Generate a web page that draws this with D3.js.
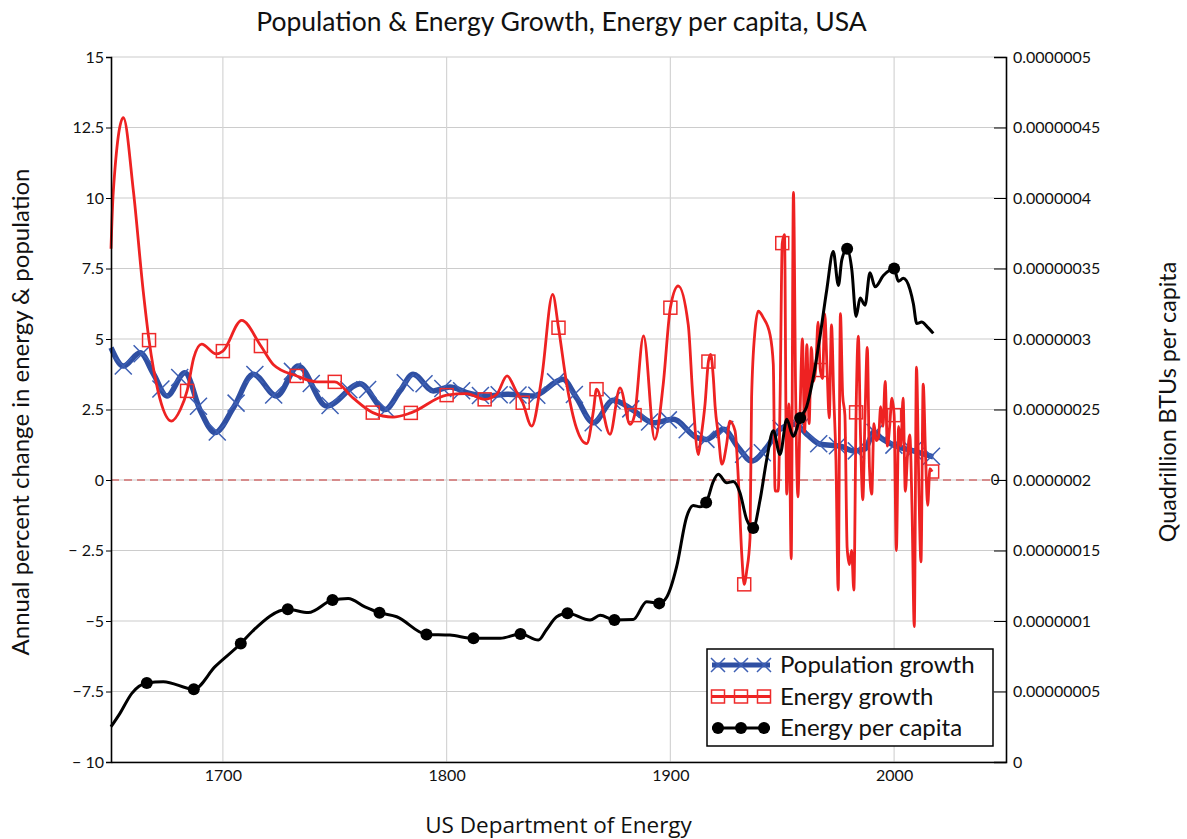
<!DOCTYPE html>
<html>
<head>
<meta charset="utf-8">
<script src="https://cdn.jsdelivr.net/npm/d3@7"></script>
<style>
        body { margin: 0; background: #fff; }
        text { font-family: Lato, "Noto Sans", sans-serif; fill: #111; }
</style>
</head>
<body>
<div id="myVis"></div>
<script>
var width = 1187;
var height = 839;

// plot box
var plotLeft = 111, plotRight = 1006, plotTop = 57, plotBottom = 762;

// ---- data ----
var popYears = [1650, 1655.5, 1663, 1669, 1675, 1683, 1690, 1696.5, 1704.7, 1713.6, 1724, 1733.7, 1746.4,
        1761.3, 1772.5, 1779.2, 1785, 1794, 1801.5, 1809, 1818, 1827, 1838.7, 1852, 1858, 1865.6, 1874.5,
        1883.4, 1892.4, 1901.3, 1911.8, 1916.2, 1923.7, 1930.4, 1936.3, 1943, 1949, 1955.7, 1961, 1967,
        1976, 1982, 1987, 1991, 1994, 2001, 2008.6, 2017.5];
var popValues = [4.69, 4.04, 4.51, 3.76, 2.98, 3.8, 2.45, 1.68, 2.56, 3.75, 2.98, 4.04, 2.62,
        3.41, 2.5, 3.16, 3.75, 3.16, 3.3, 3.1, 2.98, 3.04, 2.98, 3.57, 2.92, 2.03, 2.83,
        2.47, 2.03, 2.15, 1.5, 1.44, 1.8, 1.15, 0.67, 1.15, 1.8, 1.98, 1.62, 1.27,
        1.2, 1.03, 1.1, 1.7, 1.5, 1.2, 1.03, 0.82];

var energyYears = [1650, 1651, 1655.5, 1660, 1664.4, 1667, 1671, 1677, 1681, 1684, 1687, 1690.5, 1697, 1700,
        1708.4, 1717, 1722.5, 1733, 1742, 1750, 1758, 1767, 1776, 1784, 1800, 1809, 1817, 1822.4, 1827,
        1831, 1834, 1838, 1842.5, 1847.4, 1850, 1853.7, 1858, 1862.6, 1865.6, 1867, 1873, 1877.5, 1882,
        1884, 1888, 1893, 1896.8, 1900, 1903.5, 1908, 1910, 1912.5, 1913.5, 1915.5, 1917, 1918, 1919.2,
        1920, 1921.4, 1923, 1925.2, 1926.6, 1928.9, 1930.4, 1931.9, 1933, 1934.1, 1935.6, 1936.3, 1937.8,
        1939.3, 1941.5, 1944.5, 1946, 1946.8, 1948.2, 1949, 1950, 1951, 1952, 1953, 1954, 1955, 1956,
        1957, 1958, 1959, 1960, 1961, 1962, 1963, 1964, 1965, 1966, 1967, 1968, 1969, 1970, 1971, 1972,
        1973, 1974, 1975, 1976, 1977, 1978, 1979, 1980, 1981, 1982, 1983, 1984, 1985, 1986, 1987, 1988,
        1989, 1990, 1991, 1992, 1993, 1994, 1995, 1996, 1997, 1998, 1999, 2000, 2001, 2002, 2003, 2004,
        2005, 2006, 2007, 2008, 2009, 2010, 2011, 2012, 2013, 2014, 2015, 2016, 2017];
var energyValues = [8.2, 10.2, 12.85, 10.25, 6.7, 4.96, 3.16, 2.09, 2.5, 3.16, 4.34, 4.82, 4.47, 4.57,
        5.66, 4.75, 4.1, 3.69, 3.48, 3.48, 2.92, 2.39, 2.23, 2.38, 3.01, 3.06, 2.86, 3.04, 3.69,
        3.16, 2.74, 1.91, 3.63, 6.58, 5.4, 3.39, 1.85, 1.29, 2.45, 3.22, 1.62, 3.27, 1.97,
        2.3, 5.11, 1.44, 3.39, 6.11, 6.88, 5.5, 3.0, 0.9, 1.4, 2.7, 4.2, 4.45, 3.63,
        2.6, 1.62, 0.56, 1.3, 2.09, 1.74, 0.0, -2.63, -3.7, -3.23, -2.05, 2.92, 5.28,
        5.99, 5.76, 5.17, 4.1, -0.39, -0.39, 2.68, 8.4, 8.7, -0.5, 2.7, -2.8, 10.2, 3.0,
        -0.6, 2.5, 5.0, 1.7, 4.8, 2.0, 4.7, 3.5, 4.0, 5.6, 3.9, 3.6, 5.9, 4.0, 2.2, 5.5,
        3.0, 0.7, -3.9, 5.9, 3.0, 2.3, -2.4, -3.0, -2.5, -3.9, 2.4, 5.1, 1.5, -0.7, 2.3, 4.7,
        0.4, -0.5, 2.0, 1.4, 1.5, 2.6, 1.9, 3.5, 1.2, 1.9, 2.9, 2.3, -2.5, 1.9, 1.2, 2.9,
        -0.4, 0.9, 1.6, -1.0, -5.2, 4.0, 0.0, -2.9, 3.4, 1.0, -0.9, 0.4, 0.3];

// energy per capita in units of 1e-7 quadrillion BTU
var perCapitaYears = [1650, 1654, 1659.3, 1666, 1673.4, 1687, 1696.5, 1708, 1713, 1729, 1738.2, 1749, 1756,
        1763.5, 1770, 1777.7, 1791, 1801.5, 1812, 1824, 1833, 1841, 1844.7, 1849.2, 1854, 1864.1, 1868.6,
        1875, 1883.4, 1889.4, 1895, 1898.4, 1902.8, 1907.3, 1910.2, 1913.2, 1916, 1919.2, 1921.4, 1925.2,
        1928.1, 1931.1, 1934.1, 1937, 1940.1, 1943, 1946, 1949, 1952, 1954.9, 1958, 1960.9, 1963.9, 1966.9,
        1969.9, 1972.8, 1975.1, 1976.6, 1979, 1981.1, 1983, 1984.8, 1987, 1989.2, 1991.5, 1995.2, 2000,
        2001.9, 2004.1, 2007.1, 2008.6, 2010.1, 2012.3, 2014.6, 2017.5];
var perCapitaValues = [0.25, 0.345, 0.487, 0.56, 0.57, 0.516, 0.676, 0.84, 0.924, 1.083, 1.06, 1.149, 1.16,
        1.1, 1.059, 1.03, 0.905, 0.9, 0.877, 0.877, 0.908, 0.865, 0.94, 1.03, 1.055, 1.007, 1.04,
        1.007, 1.01, 1.137, 1.125, 1.17, 1.385, 1.74, 1.82, 1.81, 1.84, 1.99, 2.04, 1.98,
        1.99, 1.91, 1.72, 1.66, 1.86, 2.14, 2.35, 2.18, 2.43, 2.31, 2.44, 2.52, 2.73, 3.02,
        3.35, 3.62, 3.38, 3.56, 3.64, 3.49, 3.16, 3.29, 3.24, 3.47, 3.37, 3.45, 3.5,
        3.41, 3.43, 3.35, 3.25, 3.11, 3.12, 3.09, 3.04];

// where the chart put its markers
var popMarkerYears = d3.range(1655.5, 2018, 8.4);
var energyMarkerYears = [1667, 1684, 1700, 1717, 1733, 1750, 1767, 1784, 1800, 1817, 1834, 1850, 1867,
        1884, 1900, 1917, 1933, 1950, 1967, 1983, 2000, 2017];
var perCapitaMarkerYears = [1666, 1687, 1708, 1729, 1749, 1770, 1791, 1812, 1833, 1854, 1875, 1895, 1916,
        1937, 1958, 1979, 2000];

var leftTicks = [-10, -7.5, -5, -2.5, 0, 2.5, 5, 7.5, 10, 12.5, 15];
var leftTickLabels = ["\u2212 10", "\u22127.5", "\u22125", "\u2212 2.5", "0", "2.5", "5", "7.5", "10", "12.5", "15"];
var rightTicks = [0, 0.5, 1, 1.5, 2, 2.5, 3, 3.5, 4, 4.5, 5];
var rightTickLabels = ["0", "0.00000005", "0.0000001", "0.00000015", "0.0000002", "0.00000025",
        "0.0000003", "0.00000035", "0.0000004", "0.00000045", "0.0000005"];
var yearTicks = [1700, 1800, 1900, 2000];

var seriesNames = ["Population growth", "Energy growth", "Energy per capita"];

var canvas = d3.select("#myVis")
                .append("svg")
                .attr("width", width)
                .attr("height", height)
                .style("background-color", "#ffffff");

var x = d3.scaleLinear().domain([1650, 2050]).range([plotLeft, plotRight]);
var yLeft = d3.scaleLinear().domain([-10, 15]).range([plotBottom, plotTop]);
var yRight = d3.scaleLinear().domain([0, 5]).range([plotBottom, plotTop]);

// grid
canvas.append("g")
        .selectAll("line")
        .data(leftTicks)
        .enter().append("line")
        .attr("x1", plotLeft).attr("x2", plotRight)
        .attr("y1", function(d) { return yLeft(d); })
        .attr("y2", function(d) { return yLeft(d); })
        .attr("stroke", "#cccccc")
        .attr("stroke-width", 1.2);

canvas.append("g")
        .selectAll("line")
        .data(yearTicks)
        .enter().append("line")
        .attr("x1", function(d) { return x(d); })
        .attr("x2", function(d) { return x(d); })
        .attr("y1", plotTop).attr("y2", plotBottom)
        .attr("stroke", "#d4d4d4")
        .attr("stroke-width", 1.2);

// zero line
canvas.append("line")
        .attr("x1", plotLeft).attr("x2", plotRight - 14)
        .attr("y1", yLeft(0)).attr("y2", yLeft(0))
        .attr("stroke", "#c83232")
        .attr("stroke-width", 1)
        .attr("stroke-dasharray", "8,5");

canvas.append("text")
        .attr("x", plotRight - 11)
        .attr("y", yLeft(0))
        .attr("dy", "0.35em")
        .attr("text-anchor", "middle")
        .style("font-size", "15px")
        .text("0");

function makeLine(yScale) {
        return d3.line()
                .x(function(d) { return x(d[0]); })
                .y(function(d) { return yScale(d[1]); })
                .curve(d3.curveMonotoneX);
}

// find the point on a drawn path at a given x
function pointAtX(node, px) {
        var lo = 0, hi = node.getTotalLength();
        for (var i = 0; i < 30; i++) {
                var mid = (lo + hi) / 2;
                if (node.getPointAtLength(mid).x < px) lo = mid; else hi = mid;
        }
        return node.getPointAtLength((lo + hi) / 2);
}

function drawSeries(years, values, yScale, color, widthPx) {
        var path = canvas.append("path")
                .datum(d3.zip(years, values))
                .attr("d", makeLine(yScale))
                .attr("fill", "none")
                .attr("stroke", color)
                .attr("stroke-width", widthPx)
                .attr("stroke-linejoin", "round");
        return path;
}

function markerSpots(path, years) {
        var node = path.node();
        return years.map(function(yr) { return pointAtX(node, x(yr)); });
}

function drawCross(g, pts, half) {
        g.selectAll("path.cross")
                .data(pts)
                .enter().append("path")
                .attr("class", "cross")
                .attr("d", function(p) {
                        return "M" + (p.x - half) + "," + (p.y - half) + "L" + (p.x + half) + "," + (p.y + half) +
                                "M" + (p.x - half) + "," + (p.y + half) + "L" + (p.x + half) + "," + (p.y - half);
                })
                .attr("stroke", "#3d5fb4")
                .attr("stroke-width", 1.5)
                .attr("fill", "none");
}

function drawSquares(g, pts, half) {
        g.selectAll("rect.sq")
                .data(pts)
                .enter().append("rect")
                .attr("class", "sq")
                .attr("x", function(p) { return p.x - half; })
                .attr("y", function(p) { return p.y - half; })
                .attr("width", half * 2)
                .attr("height", half * 2)
                .attr("fill", "none")
                .attr("stroke", "#ee2a2a")
                .attr("stroke-width", 1.5);
}

function drawDots(g, pts, r) {
        g.selectAll("circle.dot")
                .data(pts)
                .enter().append("circle")
                .attr("class", "dot")
                .attr("cx", function(p) { return p.x; })
                .attr("cy", function(p) { return p.y; })
                .attr("r", r)
                .attr("fill", "#000");
}

// population growth
var popPath = drawSeries(popYears, popValues, yLeft, "#2f4fa2", 5.5);
drawCross(canvas.append("g"), markerSpots(popPath, popMarkerYears), 8.5);

// energy growth
var energyPath = drawSeries(energyYears, energyValues, yLeft, "#ee2222", 2.8);
drawSquares(canvas.append("g"), markerSpots(energyPath, energyMarkerYears), 6.5);

// energy per capita
var capPath = drawSeries(perCapitaYears, perCapitaValues, yRight, "#000000", 3);
drawDots(canvas.append("g"), markerSpots(capPath, perCapitaMarkerYears), 6);

// axes
var leftAxis = d3.axisLeft(yLeft)
        .tickValues(leftTicks)
        .tickFormat(function(d, i) { return leftTickLabels[i]; })
        .tickSize(5)
        .tickPadding(2);

var rightAxis = d3.axisRight(yRight)
        .tickValues(rightTicks)
        .tickFormat(function(d, i) { return rightTickLabels[i]; })
        .tickSize(-12)
        .tickPadding(7);

var bottomAxis = d3.axisBottom(x)
        .tickValues(yearTicks)
        .tickFormat(d3.format("d"))
        .tickSize(0)
        .tickPadding(8);

function styleAxis(g) {
        g.select(".domain").attr("stroke", "#000").attr("stroke-width", 1.6);
        g.selectAll(".tick line").attr("stroke", "#000");
        g.selectAll(".tick text")
                .style("font-family", "Lato, 'Noto Sans', sans-serif")
                .style("font-size", "16px")
                .attr("fill", "#111");
}

canvas.append("g")
        .attr("transform", "translate(" + plotLeft + ",0)")
        .call(leftAxis)
        .call(styleAxis);

canvas.append("g")
        .attr("transform", "translate(" + plotRight + ",0)")
        .call(rightAxis)
        .call(styleAxis);

canvas.append("g")
        .attr("transform", "translate(0," + plotBottom + ")")
        .call(bottomAxis)
        .call(styleAxis);

// titles
canvas.append("text")
        .attr("x", (plotLeft + plotRight) / 2 + 3)
        .attr("y", 31)
        .attr("text-anchor", "middle")
        .style("font-size", "26.5px")
        .text("Population & Energy Growth, Energy per capita, USA");

canvas.append("text")
        .attr("x", (plotLeft + plotRight) / 2)
        .attr("y", 833)
        .attr("text-anchor", "middle")
        .style("font-family", "'Open Sans', sans-serif")
        .style("font-size", "22.5px")
        .text("US Department of Energy");

canvas.append("text")
        .attr("transform", "translate(29,412) rotate(-90)")
        .attr("text-anchor", "middle")
        .style("font-size", "24px")
        .text("Annual percent change in energy & population");

canvas.append("text")
        .attr("transform", "translate(1176,402) rotate(-90)")
        .attr("text-anchor", "middle")
        .style("font-size", "23.3px")
        .text("Quadrillion BTUs per capita");

// legend
var legend = canvas.append("g").attr("transform", "translate(707,649)");

legend.append("rect")
        .attr("width", 286)
        .attr("height", 97)
        .attr("fill", "#fff")
        .attr("stroke", "#000")
        .attr("stroke-width", 1.5);

var legendColors = ["#2f4fa2", "#ee2222", "#000000"];
var legendWidths = [5, 2.8, 3];

seriesNames.forEach(function(name, i) {
        var cy = 16 + i * 31.5;
        var row = legend.append("g");
        row.append("line")
                .attr("x1", 5).attr("x2", 63)
                .attr("y1", cy).attr("y2", cy)
                .attr("stroke", legendColors[i])
                .attr("stroke-width", legendWidths[i]);
        var pts = [11, 34, 57].map(function(px) { return {x: px, y: cy}; });
        if (i === 0) drawCross(row, pts, 7);
        if (i === 1) drawSquares(row, pts, 6.5);
        if (i === 2) drawDots(row, pts, 6);
        row.append("text")
                .attr("x", 73)
                .attr("y", cy)
                .attr("dy", "0.35em")
                .style("font-size", "24px")
                .text(name);
});
</script>
</body>
</html>
